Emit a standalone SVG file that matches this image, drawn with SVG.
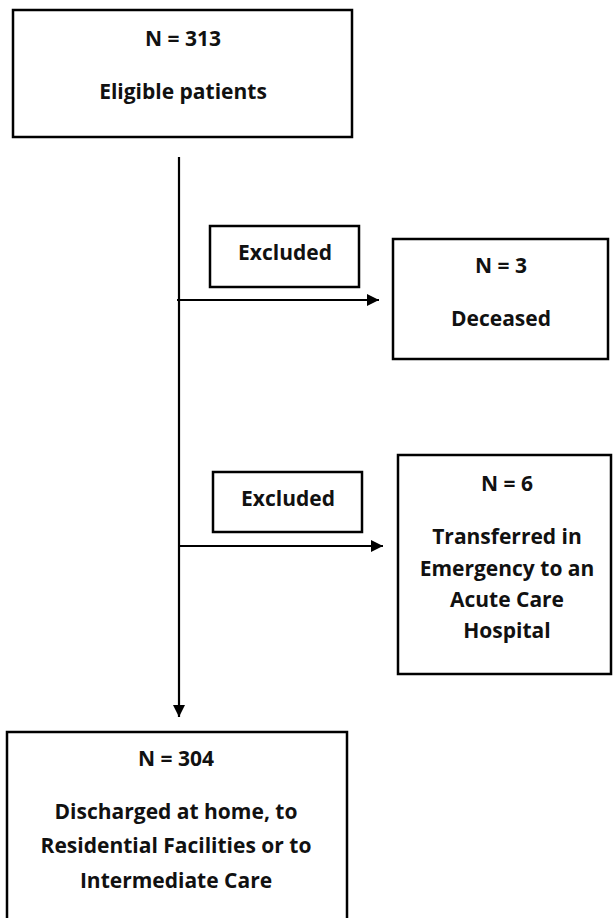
<svg xmlns="http://www.w3.org/2000/svg" width="614" height="918" viewBox="0 0 614 918">
<style>
.box{fill:#fff;stroke:#000;stroke-width:2.5}
.t{font-family:"Open Sans","Liberation Sans",sans-serif;font-weight:bold;font-size:21px;text-anchor:middle;fill:#111}
.ln{stroke:#000;stroke-width:2.2;fill:none}
</style>
<defs>
<marker id="ah" viewBox="0 0 12 12" refX="12" refY="6" markerWidth="12" markerHeight="12" markerUnits="userSpaceOnUse" orient="auto">
<path d="M0,0 L12,6 L0,12 Z" fill="#000"/>
</marker>
</defs>
<rect width="614" height="918" fill="#fff"/>
<g id="connectors">
<line class="ln" x1="179" y1="157" x2="179" y2="717" marker-end="url(#ah)"/>
<line class="ln" x1="177" y1="300" x2="379" y2="300" marker-end="url(#ah)"/>
<line class="ln" x1="179" y1="546" x2="383" y2="546" marker-end="url(#ah)"/>
</g>
<g id="eligible">
<rect class="box" x="13" y="10" width="339" height="127"/>
<text class="t" x="183" y="46">N = 313</text>
<text class="t" x="183" y="99">Eligible patients</text>
</g>
<g id="excluded1">
<rect class="box" x="210" y="226" width="149" height="61"/>
<text class="t" x="285" y="260">Excluded</text>
</g>
<g id="deceased">
<rect class="box" x="393" y="239" width="215" height="120"/>
<text class="t" x="501" y="273">N = 3</text>
<text class="t" x="501" y="326">Deceased</text>
</g>
<g id="excluded2">
<rect class="box" x="213" y="472" width="149" height="60"/>
<text class="t" x="288" y="506">Excluded</text>
</g>
<g id="transferred">
<rect class="box" x="398" y="455" width="213" height="219"/>
<text class="t" x="507" y="491">N = 6</text>
<text class="t" x="507" y="544">Transferred in</text>
<text class="t" x="507" y="576">Emergency to an</text>
<text class="t" x="507" y="607">Acute Care</text>
<text class="t" x="507" y="638">Hospital</text>
</g>
<g id="discharged">
<rect class="box" x="7" y="732" width="340" height="200"/>
<text class="t" x="176" y="766">N = 304</text>
<text class="t" x="176" y="819">Discharged at home, to</text>
<text class="t" x="176" y="853">Residential Facilities or to</text>
<text class="t" x="176" y="888">Intermediate Care</text>
</g>
</svg>
